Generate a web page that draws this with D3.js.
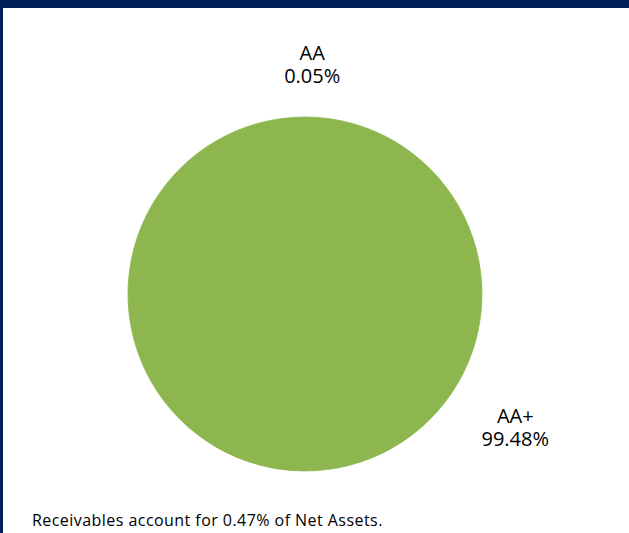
<!DOCTYPE html>
<html>
<head>
<meta charset="utf-8">
<script src="https://cdn.jsdelivr.net/npm/d3@7"></script>
<style>
  html, body { margin: 0; padding: 0; background: #fff; }
  svg { display: block; font-family: "Open Sans", "DejaVu Sans", sans-serif; }
</style>
</head>
<body>
<div id="chart"></div>
<script>
// credit quality split (percent of net assets)
let ratings = ["AA", "AA+"];
let shares = [0.05, 99.48];
let receivables = 0.47;

let width = 629, height = 533;

let svg = d3.select('#chart')
    .append('svg')
    .attr('width', width)
    .attr('height', height);

// frame: navy strip on top and left edge
svg.append('rect').attr('x', 0).attr('y', 0).attr('width', width).attr('height', 8).attr('fill', '#002157');
svg.append('rect').attr('x', 0).attr('y', 0).attr('width', 3).attr('height', height).attr('fill', '#002157');

let cx = 305, cy = 294, radius = 177;

let pie = d3.pie().sort(null).value(function (d) { return d.value; });
let slices = pie(ratings.map(function (r, i) { return { name: r, value: shares[i] }; }));

let arc = d3.arc().innerRadius(0).outerRadius(radius);

let g = svg.append('g').attr('transform', 'translate(' + cx + ',' + cy + ')');

g.selectAll('path.slice')
    .data(slices)
    .enter()
    .append('path')
    .attr('class', 'slice')
    .attr('d', arc)
    .attr('fill', '#8db74e')
    .attr('stroke', '#8db74e')
    .attr('stroke-width', 0.8);

// Excel "best fit" labels: small slice label sits above, big one lower right
function labelPos(d) {
    let a, r;
    if (d.data.name === 'AA+') { a = 122.4 * Math.PI / 180; r = 249; }
    else { a = (d.startAngle + d.endAngle) / 2 + 1.7 * Math.PI / 180; r = 230; }
    return [Math.sin(a) * r, -Math.cos(a) * r];
}

let labels = g.selectAll('text.lbl')
    .data(slices)
    .enter()
    .append('text')
    .attr('class', 'lbl')
    .attr('text-anchor', 'middle')
    .attr('font-size', 20)
    .attr('fill', '#000')
    .attr('transform', function (d) { let p = labelPos(d); return 'translate(' + p[0] + ',' + p[1] + ')'; });

labels.append('tspan').attr('x', 0).attr('y', -4).text(function (d) { return d.data.name; });
labels.append('tspan').attr('x', 0).attr('y', 19).text(function (d) { return d3.format('.2f')(d.data.value) + '%'; });

let note = svg.append('text')
    .attr('x', 32)
    .attr('y', 526)
    .attr('font-size', 16)
    .attr('fill', '#000')
    .text('Receivables account for ' + d3.format('.2f')(receivables) + '% of Net Assets.');

// stretch the footnote a little to match the wider original typeface
let len = note.node().getComputedTextLength();
let n = note.text().length;
note.attr('letter-spacing', ((351 - len) / n).toFixed(2));
</script>
</body>
</html>
